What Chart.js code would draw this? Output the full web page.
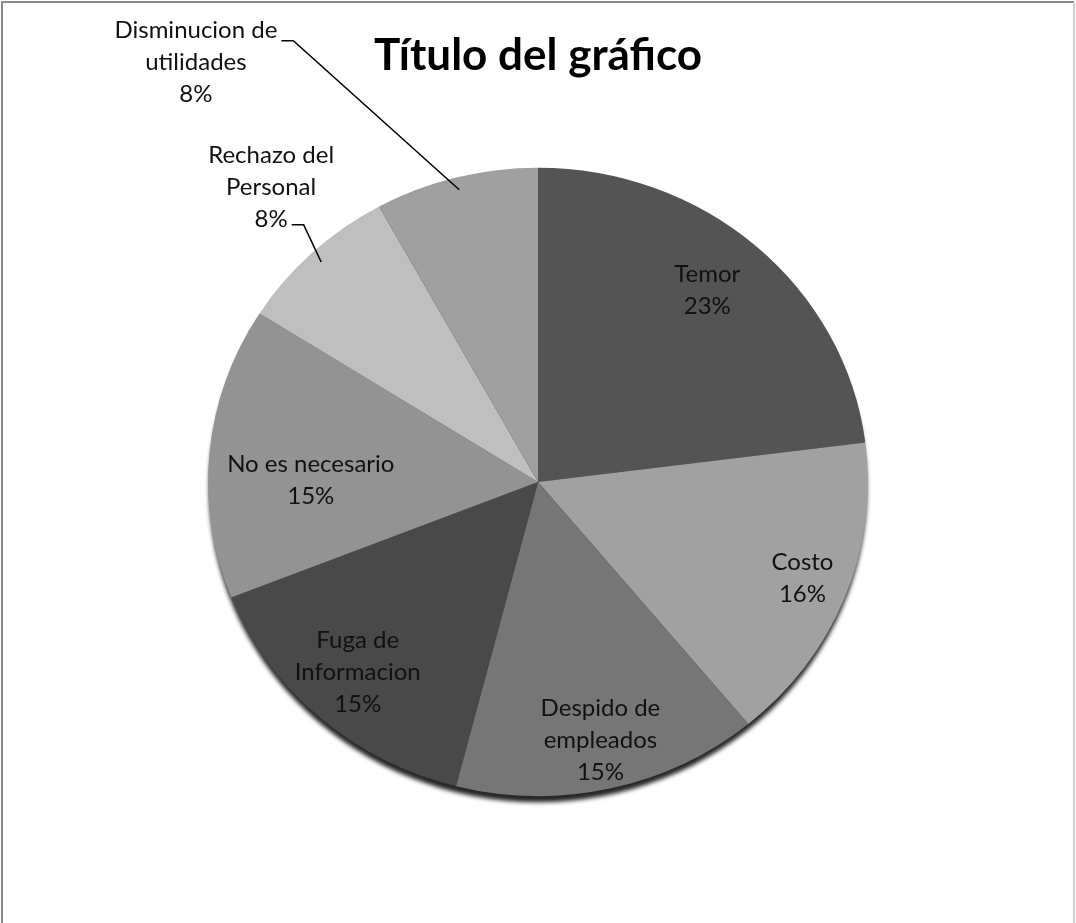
<!DOCTYPE html>
<html>
<head>
<meta charset="utf-8">
<script src="https://cdn.jsdelivr.net/npm/chart.js@4.4.1/dist/chart.umd.min.js"></script>
<style>
  html, body { margin: 0; padding: 0; background: #ffffff; }
  #wrap { width: 1076px; height: 923px; position: relative; }
</style>
</head>
<body>
<div id="wrap"><canvas id="c" width="1076" height="923"></canvas></div>
<script>
// ---- data ----
const categories = ["Temor", "Costo", "Despido de empleados", "Fuga de Informacion", "No es necesario", "Rechazo del Personal", "Disminucion de utilidades"];
const labelLines = [["Temor"], ["Costo"], ["Despido de", "empleados"], ["Fuga de", "Informacion"], ["No es necesario"], ["Rechazo del", "Personal"], ["Disminucion de", "utilidades"]];
const percentages = [23, 16, 15, 15, 15, 8, 8];
const sliceColors = ["#545454", "#a1a1a1", "#767676", "#494949", "#939393", "#bfbfbf", "#a0a0a0"];
const chartTitle = "Título del gráfico";

// label placement (style): inside -> radial factor + angle shift (deg); outside -> offset in radius units
const placement = [
  { r: 0.80, a: 0 },
  { r: 0.88, a: -1.5 },
  { r: 0.83, a: -1 },
  { r: 0.82, a: 2 },
  { r: 0.71, a: -5 },
  { out: true, dx: -0.834, dy: -0.922, attach: 2, lineDy: 6 },
  { out: true, dx: -1.069, dy: -1.31, attach: 0, lineDy: 10 }
];

// slight elliptical (3-D tilt) look of the original
const SX = 1.031, SY = 0.982;

const FONT = "Lato, 'Open Sans', sans-serif";
const LABEL_SIZE = 24;
const LINE_H = 32;

const decorPlugin = {
  id: 'decor',
  beforeDatasetsDraw(chart) {
    const meta = chart.getDatasetMeta(0);
    const a = meta.data[0];
    if (!a) return;
    const ctx = chart.ctx;
    ctx.save();
    // rim / shadow
    ctx.save();
    ctx.shadowColor = 'rgba(0,0,0,0.85)';
    ctx.shadowBlur = 4;
    ctx.shadowOffsetY = 7;
    ctx.fillStyle = '#333';
    ctx.beginPath();
    ctx.ellipse(a.x, a.y, (a.outerRadius - 1) * SX, (a.outerRadius - 1) * SY, 0, 0, Math.PI * 2);
    ctx.fill();
    ctx.restore();
    // stretch the pie itself
    ctx.translate(a.x, a.y);
    ctx.scale(SX, SY);
    ctx.translate(-a.x, -a.y);
  },
  afterDatasetsDraw(chart) {
    const ctx = chart.ctx;
    ctx.restore(); // undo stretch
    const meta = chart.getDatasetMeta(0);
    ctx.save();
    ctx.font = LABEL_SIZE + "px " + FONT;
    ctx.textAlign = 'center';
    ctx.textBaseline = 'middle';
    ctx.fillStyle = '#111';
    meta.data.forEach((arc, i) => {
      const lines = labelLines[i].concat([percentages[i] + "%"]);
      const p = placement[i];
      const R = arc.outerRadius;
      const mid = (arc.startAngle + arc.endAngle) / 2;
      let cx, cy;
      if (!p.out) {
        const ang = mid + (p.a || 0) * Math.PI / 180;
        cx = arc.x + Math.cos(ang) * R * p.r;
        cy = arc.y + Math.sin(ang) * R * p.r;
      } else {
        cx = arc.x + p.dx * R;
        cy = arc.y + p.dy * R;
      }
      const top = cy - (lines.length - 1) * LINE_H / 2;
      lines.forEach((t, k) => ctx.fillText(t, cx, top + k * LINE_H));
      if (p.out) {
        const ly = top + p.attach * LINE_H + p.lineDy;
        const w = ctx.measureText(lines[p.attach]).width;
        const x0 = cx + w / 2 + 4;
        const x1 = x0 + 12;
        const ex = arc.x + Math.cos(mid) * R * 0.96 * SX;
        const ey = arc.y + Math.sin(mid) * R * 0.96 * SY;
        ctx.strokeStyle = '#000';
        ctx.lineWidth = 1.5;
        ctx.beginPath();
        ctx.moveTo(x0, ly);
        ctx.lineTo(x1, ly);
        ctx.lineTo(ex, ey);
        ctx.stroke();
      }
    });
    ctx.restore();
  },
  afterDraw(chart) {
    const ctx = chart.ctx;
    ctx.save();
    ctx.lineWidth = 2;
    ctx.strokeStyle = '#8c8c8c';
    ctx.beginPath();
    ctx.moveTo(2, 923); ctx.lineTo(2, 2); ctx.lineTo(1074, 2);
    ctx.stroke();
    ctx.strokeStyle = '#cfcfcf';
    ctx.beginPath();
    ctx.moveTo(1074, 2); ctx.lineTo(1074, 923);
    ctx.stroke();
    ctx.restore();
  }
};

new Chart(document.getElementById('c'), {
  type: 'pie',
  data: {
    labels: categories,
    datasets: [{
      data: percentages,
      backgroundColor: sliceColors,
      borderWidth: 0,
      radius: 320
    }]
  },
  options: {
    responsive: false,
    animation: false,
    layout: { padding: { top: 0, bottom: 121, left: 0, right: 0 } },
    plugins: {
      legend: { display: false },
      tooltip: { enabled: false },
      title: {
        display: true,
        text: chartTitle,
        color: '#000',
        font: { family: FONT, size: 44, weight: 'bold', lineHeight: 1.2 },
        padding: { top: 29, bottom: 80 }
      }
    }
  },
  plugins: [decorPlugin]
});
</script>
</body>
</html>
